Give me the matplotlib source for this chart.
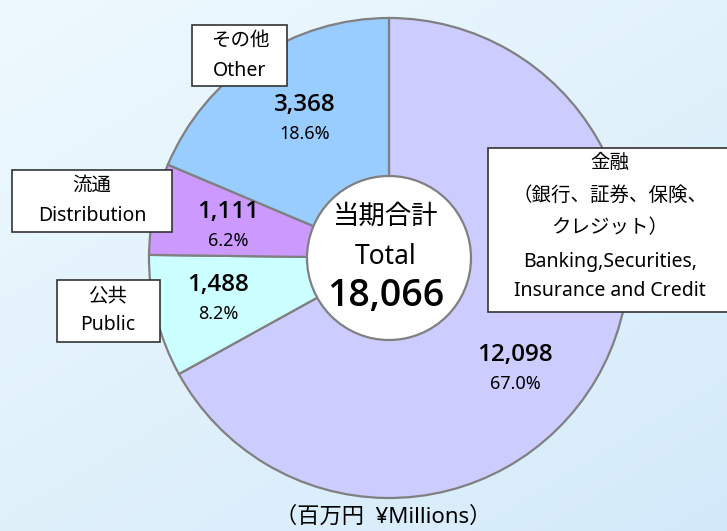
import numpy as np
import matplotlib.pyplot as plt
from matplotlib.patches import Circle, Rectangle

plt.rcParams['font.family'] = ['Noto Sans', 'Noto Sans CJK JP', 'DejaVu Sans']

# data
labels_jp = ['金融', '公共', '流通', 'その他']
labels_jp_sub = ['（銀行、証券、保険、', 'クレジット）']
labels_en = ['Banking,Securities,\nInsurance and Credit', 'Public', 'Distribution', 'Other']
values = [12098, 1488, 1111, 3368]
pcts = ['67.0%', '8.2%', '6.2%', '18.6%']
total = 18066
colors = ['#ccccff', '#ccffff', '#cc99ff', '#99ccff']

W, H = 727, 531
fig = plt.figure(figsize=(W / 100, H / 100), dpi=100)

# background gradient
bg = fig.add_axes([0, 0, 1, 1], zorder=0)
gx, gy = np.meshgrid(np.linspace(0, 1, 200), np.linspace(0, 1, 200))
g = (gx * 0.45 + gy * 0.55)
c0 = np.array([238, 249, 254]) / 255
c1 = np.array([212, 234, 250]) / 255
img = c0[None, None, :] * (1 - g[..., None]) + c1[None, None, :] * g[..., None]
bg.imshow(img, extent=[0, 1, 0, 1], aspect='auto', origin='upper')
bg.axis('off')

ax = fig.add_axes([0, 0, 1, 1], zorder=1)
ax.patch.set_alpha(0)
cx, cy, r = 389, H - 258, 240
ax.pie(values, colors=colors, startangle=90, counterclock=False,
       center=(cx, cy), radius=r,
       wedgeprops=dict(edgecolor='#808080', linewidth=1.6))
ax.add_patch(Circle((cx, cy), 82, facecolor='white', edgecolor='#808080', linewidth=1.6, zorder=3))
ax.set_xlim(0, W)
ax.set_ylim(0, H)
ax.set_aspect('equal')
ax.axis('off')


def t(x, y, s, **kw):
    ax.text(x, H - y, s, ha='center', va='center', zorder=5, **kw)


def box(x0, y0, x1, y1):
    ax.add_patch(Rectangle((x0, H - y1), x1 - x0, y1 - y0, facecolor='white',
                           edgecolor='#333333', linewidth=1.2, zorder=4))


bold = ['Open Sans', 'Noto Sans CJK JP']

# centre total
t(386, 217, '当期合計', fontsize=19)
t(386, 257, 'Total', fontsize=19)
t(386, 296, f'{total:,}', fontsize=27, fontweight='semibold', family=bold)

# values and percentages inside slices
val_pos = [(515, 355), (218, 285), (228, 212), (305, 105)]
for (x, y), v, p in zip(val_pos, values, pcts):
    t(x, y, f'{v:,}', fontsize=17.5, fontweight='semibold', family=bold)
    t(x, y + 29, p, fontsize=13)

fs = 14
# label boxes
box(488, 148, 735, 312)
t(610, 163, labels_jp[0], fontsize=fs)
t(610, 196, labels_jp_sub[0], fontsize=fs)
t(610, 228, labels_jp_sub[1], fontsize=fs)
t(610, 262, labels_en[0].split('\n')[0], fontsize=fs)
t(610, 291, labels_en[0].split('\n')[1], fontsize=fs)

box(57, 280, 160, 342)
t(108, 296, labels_jp[1], fontsize=fs)
t(108, 325, labels_en[1], fontsize=fs)

box(12, 170, 172, 232)
t(92, 186, labels_jp[2], fontsize=fs)
t(92, 216, labels_en[2], fontsize=fs)

box(192, 25, 287, 86)
t(240, 41, labels_jp[3], fontsize=fs)
t(240, 71, labels_en[3], fontsize=fs)

t(383, 517, '（百万円  ¥Millions）', fontsize=16)

fig.savefig('out.png', dpi=100)
